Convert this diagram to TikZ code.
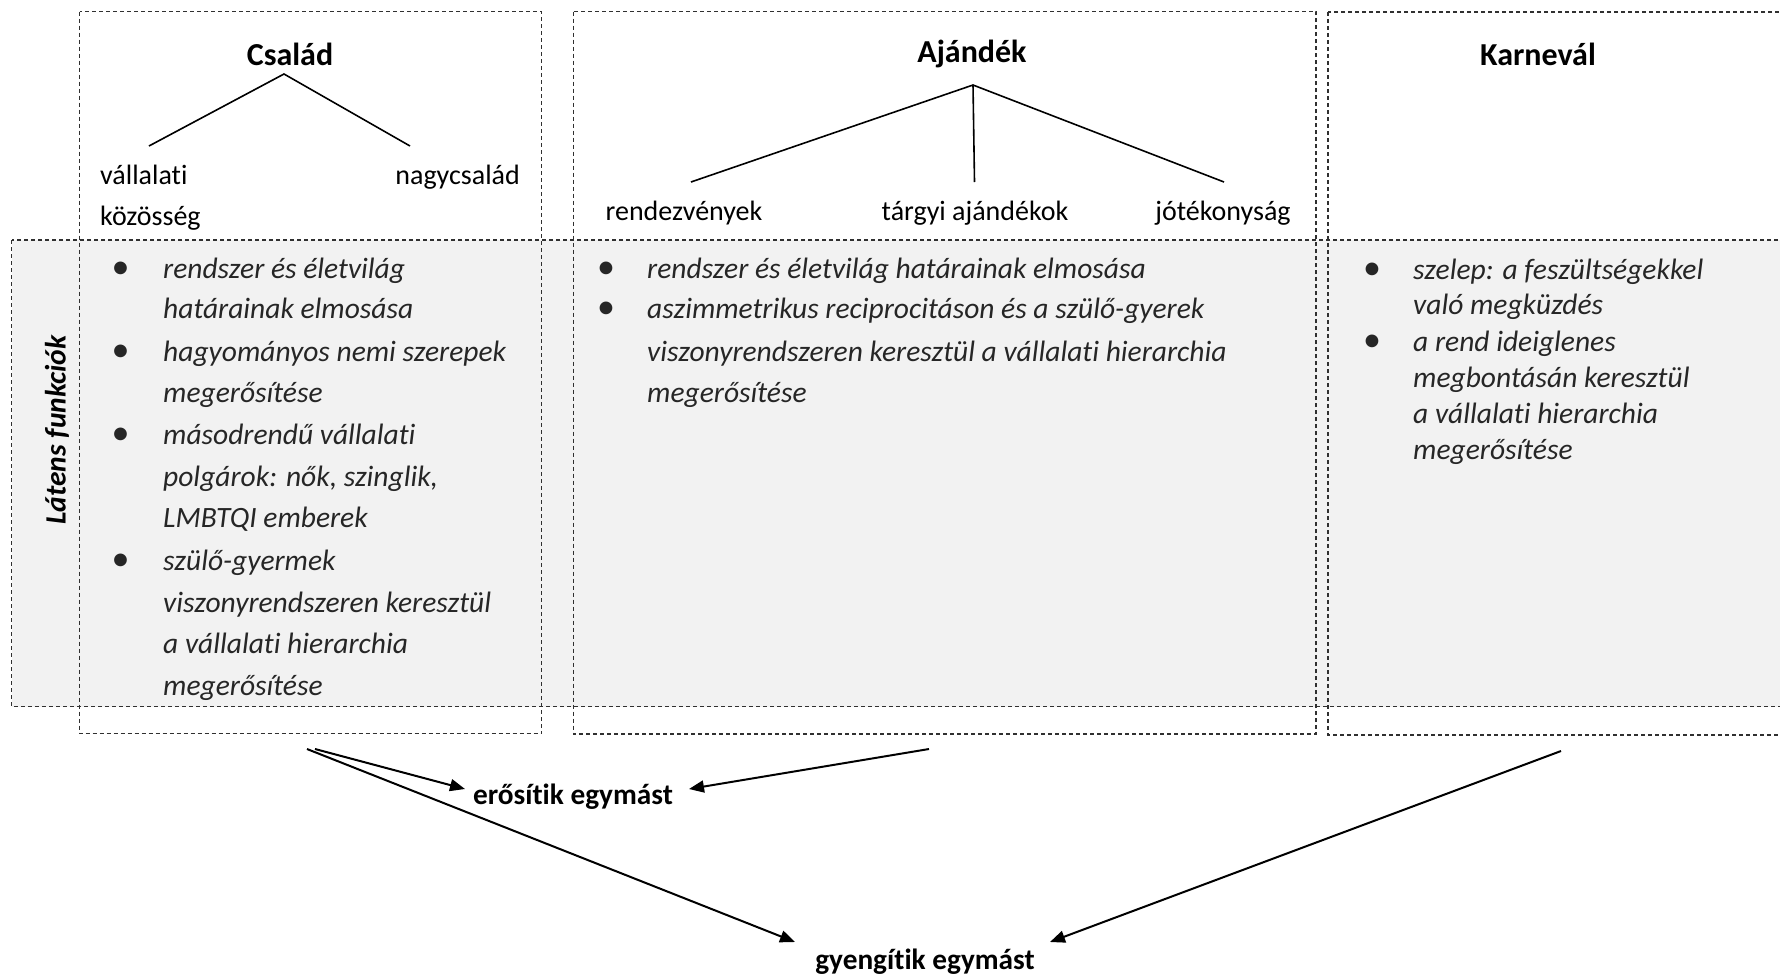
\documentclass[tikz,border=0pt]{standalone}
\usepackage{fontspec}
\setmainfont{Carlito}[Ligatures=NoCommon]
\usetikzlibrary{arrows.meta}
\definecolor{bandgray}{HTML}{F2F2F2}
\definecolor{txtgray}{HTML}{262626}
\definecolor{dashgray}{HTML}{303030}
\tikzset{
  dbox/.style={draw=dashgray, line width=1.1pt, dash pattern=on 4pt off 3pt},
  ttl/.style={font=\fontsize{32}{38}\selectfont\bfseries, inner sep=0pt},
  lbl/.style={font=\fontsize{28}{34}\selectfont, inner sep=0pt},
  itm/.style={font=\fontsize{29.5}{35}\selectfont\itshape, text=txtgray, inner sep=0pt, anchor=mid west},
  blt/.style={font=\fontsize{36}{40}\selectfont, text=txtgray, inner sep=0pt, anchor=mid},
  tree/.style={line width=1.6pt},
  arr/.style={line width=2pt, -{Triangle[length=15pt,width=12pt]}},
  res/.style={font=\fontsize{29.3}{35}\selectfont\bfseries, inner sep=0pt}
}
\begin{document}
\begin{tikzpicture}[x=1pt,y=-1pt]
\clip (0,0) rectangle (1780,975);
\fill[white] (0,0) rectangle (1780,975);
% grey band
\fill[bandgray] (11.5,240) rectangle (1800,706.5);
\draw[dbox] (11.5,240) rectangle (1800,706.5);
% column boxes
\draw[dbox] (79.5,11.5) rectangle (541.5,733.5);
\draw[dbox] (573.5,11.5) rectangle (1316,734);
\draw[dbox] (1328,12) rectangle (1800,735);

\node[lbl, rotate=90, font=\fontsize{29.5}{35}\selectfont\bfseries\itshape] (latens) at (57,430) {Látens funkciók};

% Csalad
\node[ttl] (csalad) at (290,54) {Család};
\coordinate (capex) at (284,74);
\coordinate (cl) at (149,146);
\coordinate (cr) at (410,146);
\draw[tree] (cl) -- (capex) -- (cr);
\node[lbl, anchor=mid west] (vall) at (100,182.5) {vállalati};
\node[lbl, anchor=mid west] (kozos) at (100,223.5) {közösség};
\node[lbl, anchor=mid east] (nagy) at (520,182.5) {nagycsalád};

\foreach \y in {276.5,359.5,442.5,568.5} \node[blt] at (120.5,\y) {•};
\node[itm] (c1a) at (163,276.5) {rendszer és életvilág};
\node[itm] (c1b) at (163,316.5) {határainak elmosása};
\node[itm] (c2a) at (163,359.5) {hagyományos nemi szerepek};
\node[itm] (c2b) at (163,400.5) {megerősítése};
\node[itm] (c3a) at (163,442.5) {másodrendű vállalati};
\node[itm] (c3b) at (163,484.5) {polgárok: nők, szinglik,};
\node[itm] (c3c) at (163,525.5) {LMBTQI emberek};
\node[itm] (c4a) at (163,568.5) {szülő-gyermek};
\node[itm] (c4b) at (163,610.5) {viszonyrendszeren keresztül};
\node[itm] (c4c) at (163,651.5) {a vállalati hierarchia};
\node[itm] (c4d) at (163,693.5) {megerősítése};

% Ajandek
\node[ttl] (ajandek) at (972,54) {Ajándék};
\coordinate (aapex) at (973,85);
\coordinate (al) at (691,182);
\coordinate (am) at (974.5,182);
\coordinate (ar) at (1224,182);
\draw[tree] (al) -- (aapex) -- (ar);
\draw[tree] (aapex) -- (am);
\node[lbl, anchor=mid] (rendez) at (684,218.5) {rendezvények};
\node[lbl, anchor=mid] (targyi) at (975,218.5) {tárgyi ajándékok};
\node[lbl, anchor=mid] (jotek) at (1223,218.5) {jótékonyság};

\foreach \y in {276.5,316.5} \node[blt] at (606,\y) {•};
\node[itm] (a1) at (647,276.5) {rendszer és életvilág határainak elmosása};
\node[itm] (a2a) at (647,316.5) {aszimmetrikus reciprocitáson és a szülő-gyerek};
\node[itm] (a2b) at (647,359.5) {viszonyrendszeren keresztül a vállalati hierarchia};
\node[itm] (a2c) at (647,400.5) {megerősítése};

% Karneval
\node[ttl] (karneval) at (1538,54) {Karnevál};
\foreach \y in {277.5,349.5} \node[blt] at (1372,\y) {•};
\node[itm] (k1a) at (1413,277.5) {szelep: a feszültségekkel};
\node[itm] (k1b) at (1413,312.5) {való megküzdés};
\node[itm] (k2a) at (1413,349.5) {a rend ideiglenes};
\node[itm] (k2b) at (1413,385.5) {megbontásán keresztül};
\node[itm] (k2c) at (1413,421.5) {a vállalati hierarchia};
\node[itm] (k2d) at (1413,457.5) {megerősítése};

% results
\node[res] (ero) at (573,797) {erősítik egymást};
\node[res] (gyen) at (925,962) {gyengítik egymást};
\coordinate (s1) at (315,749);
\coordinate (s2) at (307,749);
\coordinate (s3) at (929,749);
\coordinate (s4) at (1561,751);
\coordinate (e1) at (465,789);
\coordinate (e2) at (795,942);
\coordinate (e3) at (689,789);
\coordinate (e4) at (1050,942);
\draw[arr] (s1) -- (e1);
\draw[arr] (s2) -- (e2);
\draw[arr] (s3) -- (e3);
\draw[arr] (s4) -- (e4);
\end{tikzpicture}
\end{document}
